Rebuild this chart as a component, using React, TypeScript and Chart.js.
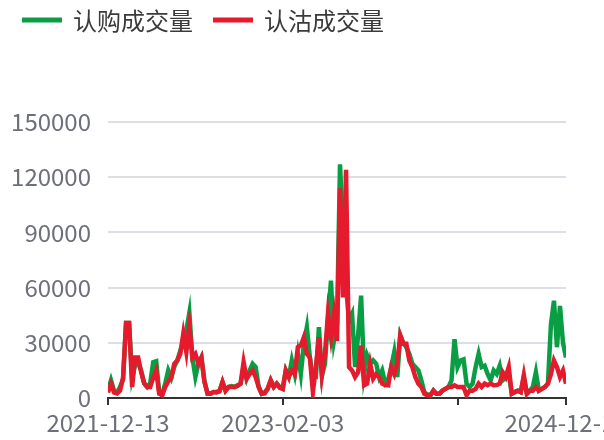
import React, { useEffect, useRef } from 'react';
import { Chart, registerables } from 'chart.js';

Chart.register(...registerables);

const seriesNames = ['认购成交量', '认沽成交量'];
const seriesColors = ['#0A9E44', '#E51A2D'];

const callVolume = [
  4000, 9600, 4000, 3000, 6000, 10000, 40800, 40800, 11000, 18000,
  19000, 15000, 8000, 6000, 8000, 19500, 20000, 3000, 2000, 8000,
  15000, 11000, 17000, 20400, 25800, 31000, 36700, 46300, 22000, 11400,
  18600, 22000, 9000, 3000, 2300, 3200, 3200, 4000, 8700, 4000,
  6000, 6500, 6000, 7000, 7800, 16800, 10500, 15000, 18600, 16800,
  6000, 2300, 3000, 5000, 9600, 6000, 7800, 6000, 5000, 15000,
  11400, 20400, 13000, 24000, 13000, 29500, 38500, 22000, 11400, 11400,
  38500, 12300, 18600, 42000, 63800, 31000, 40000, 127000, 90000, 60000,
  42000, 45700, 16800, 34000, 55600, 13000, 23000, 18600, 20400, 18600,
  11400, 15000, 8000, 10000, 16800, 25000, 11400, 34000, 30000, 27600,
  24000, 18600, 16800, 15000, 9600, 3000, 2000, 1500, 4000, 2300,
  2300, 4000, 5000, 6000, 9600, 32000, 16800, 20400, 21000, 7800,
  6000, 7800, 16800, 24000, 16800, 17500, 13000, 9600, 15000, 13000,
  17500, 9600, 11000, 13000, 2300, 3200, 4000, 3200, 11400, 2300,
  4000, 6000, 14000, 4000, 5000, 6000, 7800, 40000, 52900, 27600,
  50000, 30000, 22000,
];

const putVolume = [
  3000, 7800, 3000, 2500, 4000, 11000, 40800, 40800, 6000, 22000,
  22000, 14000, 8000, 6000, 6000, 11000, 15000, 2300, 1500, 6000,
  9000, 11000, 18600, 20400, 24000, 35000, 25000, 39400, 22000, 24000,
  18600, 22000, 9000, 2300, 2300, 3200, 3000, 3500, 8700, 4000,
  6000, 6000, 6000, 6500, 7800, 19500, 10500, 13000, 15000, 11400,
  6000, 2300, 2500, 5000, 9600, 6000, 7800, 5500, 5000, 15000,
  11400, 15000, 13000, 27600, 28500, 33000, 24000, 22000, 3200, 16800,
  33000, 12300, 24000, 45700, 33000, 45700, 31000, 114000, 54700, 124000,
  16800, 15000, 11400, 14000, 28500, 6900, 7800, 18600, 10500, 13000,
  11400, 7800, 7000, 6900, 16800, 13000, 18600, 34000, 29500, 29500,
  20400, 16800, 11400, 7800, 6000, 2300, 1500, 1500, 4000, 2300,
  2300, 4000, 5000, 6000, 6000, 6900, 6000, 6000, 6000, 1500,
  4000, 4000, 5000, 7800, 6000, 7800, 6900, 7800, 6900, 7000,
  7800, 14000, 11400, 16800, 2300, 3200, 4000, 3200, 12300, 2300,
  4000, 4000, 6000, 4000, 5000, 6000, 7800, 13000, 20400, 16800,
  11400, 14900, 7800,
];

const xTickIndex = [0, 58, 116, 152];
const xTickLabels = ['2021-12-13', '2023-02-03', '', '2024-12-13'];

const yMin = 0;
const yMax = 150000;
const yStep = 30000;

const FONT = '"Noto Sans CJK SC", "Noto Sans", sans-serif';
const AXIS_TEXT = '#6E7079';

const overlayPlugin = {
  id: 'overlay',
  afterDraw(chart: any) {
    const ctx = chart.ctx;
    const xs = chart.scales.x;
    ctx.save();
    // x labels
    ctx.font = `24px ${FONT}`;
    ctx.fillStyle = AXIS_TEXT;
    ctx.textAlign = 'center';
    ctx.textBaseline = 'middle';
    xTickIndex.forEach((v, k) => {
      const t = xTickLabels[k];
      if (!t) return;
      ctx.fillText(t, xs.getPixelForValue(v), chart.chartArea.bottom + 25);
    });
    // legend
    let x = 22;
    const cy = 20;
    seriesNames.forEach((name, k) => {
      ctx.fillStyle = seriesColors[k];
      ctx.fillRect(x, cy - 2.5, 40, 5);
      ctx.fillStyle = '#3a3a3a';
      ctx.textAlign = 'left';
      ctx.textBaseline = 'middle';
      ctx.fillText(name, x + 51, cy + 1);
      x += 51 + ctx.measureText(name).width + 20;
    });
    ctx.restore();
  },
};

export default function App() {
  const ref = useRef<HTMLCanvasElement | null>(null);
  useEffect(() => {
    if (!ref.current) return;
    const chart = new Chart(ref.current, {
      type: 'line',
      data: {
        datasets: [
          {
            label: seriesNames[0],
            data: callVolume.map((y, i) => ({ x: i, y })),
            borderColor: seriesColors[0],
            backgroundColor: seriesColors[0],
            borderWidth: 4.5,
            pointRadius: 0,
            tension: 0,
            order: 1,
          },
          {
            label: seriesNames[1],
            data: putVolume.map((y, i) => ({ x: i, y })),
            borderColor: seriesColors[1],
            backgroundColor: seriesColors[1],
            borderWidth: 4.5,
            pointRadius: 0,
            tension: 0,
            order: 0,
          },
        ],
      },
      options: {
        responsive: false,
        animation: false,
        layout: { padding: { top: 122, right: 38, bottom: 0, left: 0 } },
        plugins: {
          legend: { display: false },
          tooltip: { enabled: false },
        },
        scales: {
          x: {
            type: 'linear',
            min: 0,
            max: callVolume.length - 1,
            afterBuildTicks: (s: any) => {
              s.ticks = xTickIndex.map((v) => ({ value: v }));
            },
            afterFit: (s: any) => {
              s.height = 42;
            },
            ticks: { display: false, autoSkip: false },
            grid: {
              drawOnChartArea: false,
              drawTicks: true,
              tickLength: 7,
              color: '#333333',
              lineWidth: 2,
            },
            border: { display: true, color: '#333333', width: 2 },
          },
          y: {
            min: yMin,
            max: yMax,
            afterFit: (s: any) => {
              s.width = 108;
            },
            ticks: {
              stepSize: yStep,
              color: AXIS_TEXT,
              font: { size: 24, family: FONT },
              padding: 17,
              callback: (v: any) => String(v),
            },
            grid: { color: '#DCDFEA', lineWidth: 2, drawTicks: false },
            border: { display: false },
          },
        },
      },
      plugins: [overlayPlugin],
    } as any);
    return () => chart.destroy();
  }, []);
  return (
    <div style={{ position: 'fixed', left: 0, top: 0, width: 604, height: 440 }}>
      <canvas ref={ref} width={604} height={440} style={{ display: 'block' }} />
    </div>
  );
}
